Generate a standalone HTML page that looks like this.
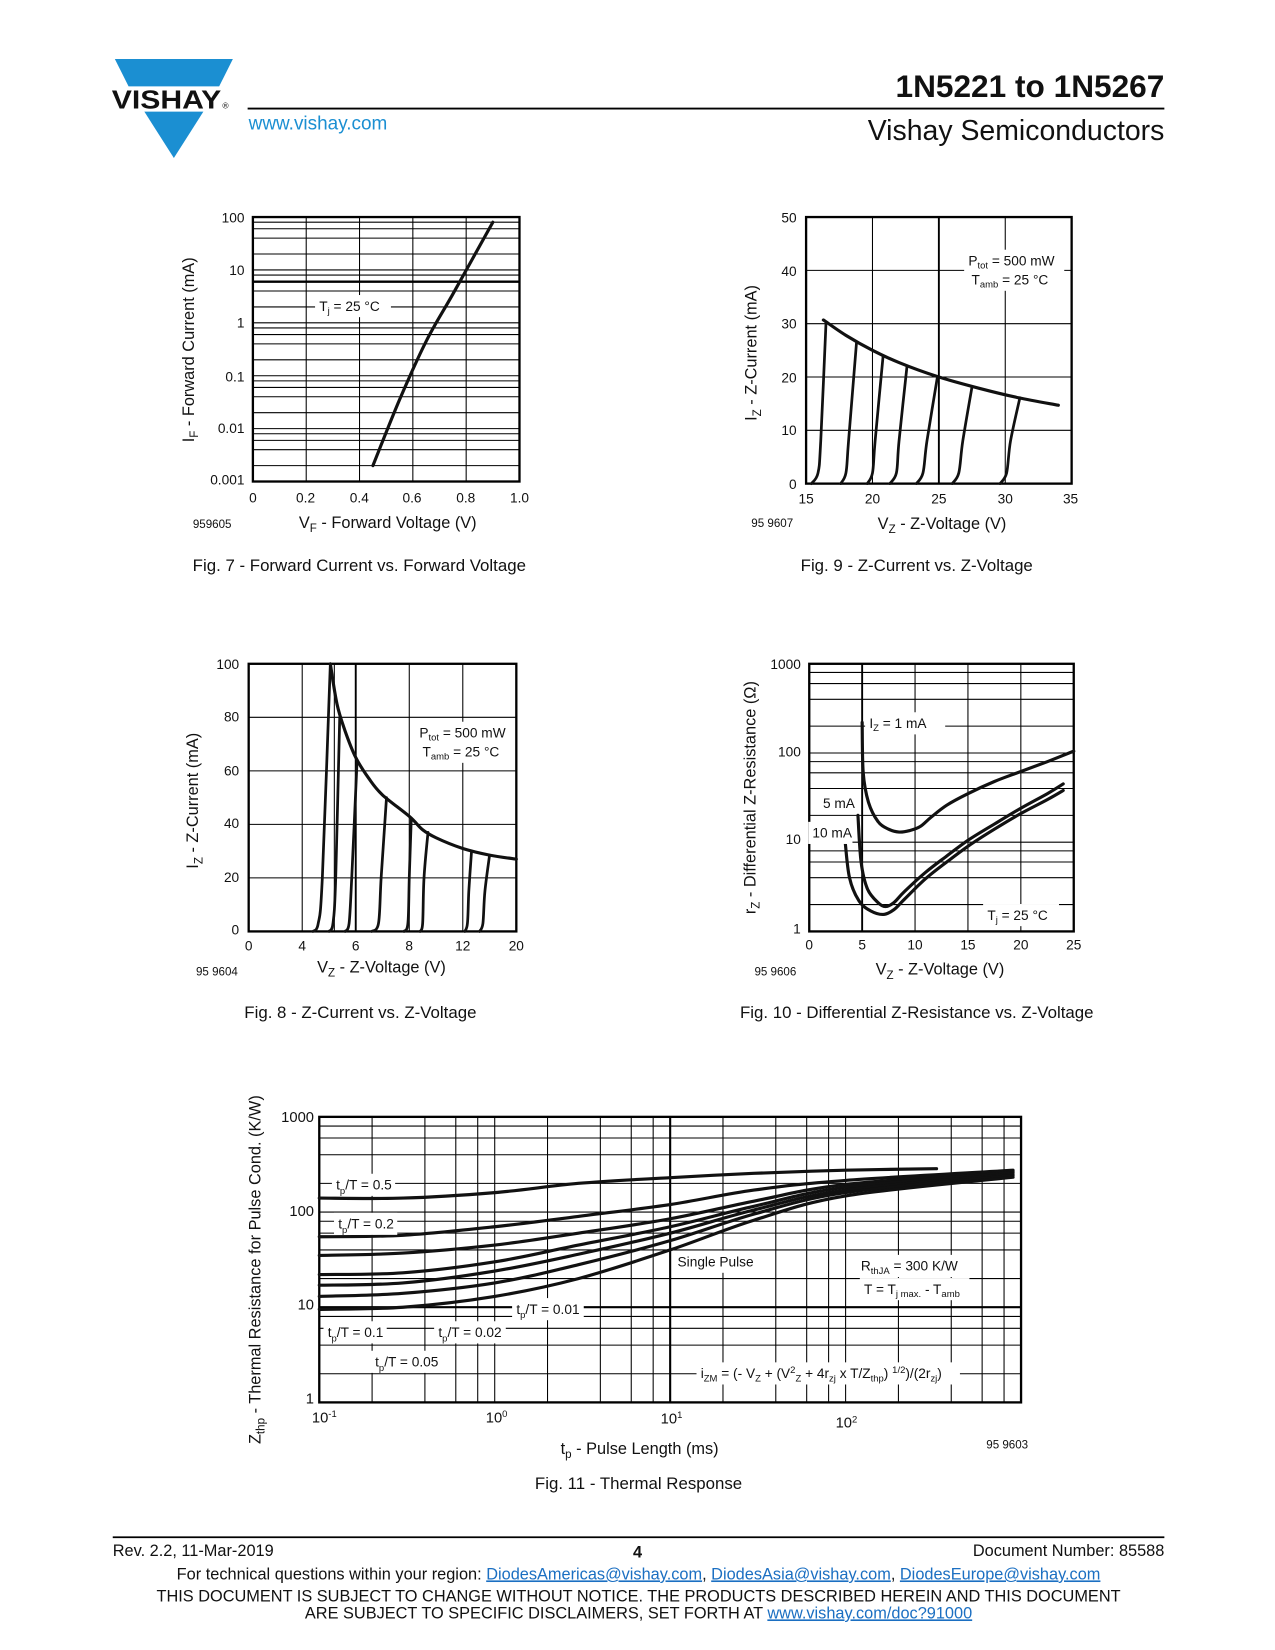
<!DOCTYPE html>
<html><head><meta charset="utf-8"><style>
html,body{margin:0;padding:0;background:#fff}
svg{display:block}
text{font-family:"Liberation Sans",Arial,sans-serif;fill:#111}
</style></head><body>
<svg id="page" xmlns="http://www.w3.org/2000/svg" width="1275" height="1650" viewBox="0 0 1210 1566" preserveAspectRatio="none">
<g>
<polygon points="109,56 221,56 208,82 122,82" fill="#1b8fd2"/>
<polygon points="137,106 193,106 165,150" fill="#1b8fd2"/>
<text x="106" y="103" font-size="25" font-weight="bold" textLength="104" lengthAdjust="spacingAndGlyphs">VISHAY</text>
<text x="211" y="103" font-size="8">®</text>
<text x="1105" y="92" font-size="30" font-weight="bold" text-anchor="end">1N5221 to 1N5267</text>
<line x1="235" y1="103" x2="1105" y2="103" stroke="#000" stroke-width="1.8"/>
<text x="236" y="123" font-size="18" style="fill:#1b8fd2">www.vishay.com</text>
<text x="1105" y="133" font-size="27" text-anchor="end">Vishay Semiconductors</text>
</g>

<g font-size="13">
<text x="232" y="211" text-anchor="end">100</text>
<text x="232" y="261" text-anchor="end">10</text>
<text x="232" y="311" text-anchor="end">1</text>
<text x="232" y="362" text-anchor="end">0.1</text>
<text x="232" y="411" text-anchor="end">0.01</text>
<text x="232" y="460" text-anchor="end">0.001</text>
<text x="240" y="477" text-anchor="middle">0</text>
<text x="290" y="477" text-anchor="middle">0.2</text>
<text x="341" y="477" text-anchor="middle">0.4</text>
<text x="391" y="477" text-anchor="middle">0.6</text>
<text x="442" y="477" text-anchor="middle">0.8</text>
<text x="493" y="477" text-anchor="middle">1.0</text>
<text x="368" y="501" font-size="15.5" text-anchor="middle">V<tspan font-size="11" dy="4">F</tspan><tspan dy="-4"> - Forward Voltage (V)</tspan></text>
<text transform="translate(184,332) rotate(-90)" font-size="15.5" text-anchor="middle">I<tspan font-size="11" dy="4">F</tspan><tspan dy="-4"> - Forward Current (mA)</tspan></text>
<text x="183" y="501" font-size="11">959605</text>
<text x="341" y="542" font-size="16" text-anchor="middle">Fig. 7 - Forward Current vs. Forward Voltage</text>
</g>

<g font-size="13">
<text x="756" y="211" text-anchor="end">50</text>
<text x="756" y="262" text-anchor="end">40</text>
<text x="756" y="312" text-anchor="end">30</text>
<text x="756" y="363" text-anchor="end">20</text>
<text x="756" y="413" text-anchor="end">10</text>
<text x="756" y="464" text-anchor="end">0</text>
<text x="765" y="478" text-anchor="middle">15</text>
<text x="828" y="478" text-anchor="middle">20</text>
<text x="891" y="478" text-anchor="middle">25</text>
<text x="954" y="478" text-anchor="middle">30</text>
<text x="1016" y="478" text-anchor="middle">35</text>
<text x="894" y="502" font-size="15.5" text-anchor="middle">V<tspan font-size="11" dy="4">Z</tspan><tspan dy="-4"> - Z-Voltage (V)</tspan></text>
<text transform="translate(718,335) rotate(-90)" font-size="15.5" text-anchor="middle">I<tspan font-size="11" dy="4">Z</tspan><tspan dy="-4"> - Z-Current (mA)</tspan></text>
<text x="713" y="500" font-size="11">95 9607</text>
<text x="870" y="542" font-size="16" text-anchor="middle">Fig. 9 - Z-Current vs. Z-Voltage</text>
</g>

<g font-size="13">
<text x="227" y="635" text-anchor="end">100</text>
<text x="227" y="685" text-anchor="end">80</text>
<text x="227" y="736" text-anchor="end">60</text>
<text x="227" y="786" text-anchor="end">40</text>
<text x="227" y="837" text-anchor="end">20</text>
<text x="227" y="887" text-anchor="end">0</text>
<text x="362" y="923" font-size="15.5" text-anchor="middle">V<tspan font-size="11" dy="4">Z</tspan><tspan dy="-4"> - Z-Voltage (V)</tspan></text>
<text transform="translate(188,760) rotate(-90)" font-size="15.5" text-anchor="middle">I<tspan font-size="11" dy="4">Z</tspan><tspan dy="-4"> - Z-Current (mA)</tspan></text>
<text x="186" y="926" font-size="11">95 9604</text>
<text x="342" y="966" font-size="16" text-anchor="middle">Fig. 8 - Z-Current vs. Z-Voltage</text>
</g>

<g font-size="13">
<text x="760" y="635" text-anchor="end">1000</text>
<text x="760" y="718" text-anchor="end">100</text>
<text x="760" y="801" text-anchor="end">10</text>
<text x="760" y="886" text-anchor="end">1</text>
<text x="892" y="925" font-size="15.5" text-anchor="middle">V<tspan font-size="11" dy="4">Z</tspan><tspan dy="-4"> - Z-Voltage (V)</tspan></text>
<text transform="translate(717,757) rotate(-90)" font-size="15.5" text-anchor="middle">r<tspan font-size="11" dy="4">Z</tspan><tspan dy="-4"> - Differential Z-Resistance (Ω)</tspan></text>
<text x="716" y="926" font-size="11">95 9606</text>
<text x="870" y="966" font-size="16" text-anchor="middle">Fig. 10 - Differential Z-Resistance vs. Z-Voltage</text>
</g>

<g font-size="14">
<text x="298" y="1065" text-anchor="end">1000</text>
<text x="298" y="1154" text-anchor="end">100</text>
<text x="298" y="1243" text-anchor="end">10</text>
<text x="298" y="1332" text-anchor="end">1</text>
<text x="296" y="1350">10<tspan font-size="9" dy="-5">-1</tspan></text>
<text x="461" y="1350">10<tspan font-size="9" dy="-5">0</tspan></text>
<text x="627" y="1351">10<tspan font-size="9" dy="-5">1</tspan></text>
<text x="793" y="1355">10<tspan font-size="9" dy="-5">2</tspan></text>
<text x="607" y="1380" font-size="15.5" text-anchor="middle">t<tspan font-size="11" dy="4">p</tspan><tspan dy="-4"> - Pulse Length (ms)</tspan></text>
<text transform="translate(247,1205) rotate(-90)" font-size="15.5" text-anchor="middle">Z<tspan font-size="11" dy="4">thp</tspan><tspan dy="-4"> - Thermal Resistance for Pulse Cond. (K/W)</tspan></text>
<text x="936" y="1375" font-size="11">95 9603</text>
<text x="606" y="1413" font-size="16" text-anchor="middle">Fig. 11 - Thermal Response</text>
</g>

<g font-size="15.5">
<line x1="107" y1="1459" x2="1105" y2="1459" stroke="#000" stroke-width="1.6"/>
<text x="107" y="1477">Rev. 2.2, 11-Mar-2019</text>
<text x="605" y="1478" font-weight="bold" text-anchor="middle">4</text>
<text x="1105" y="1477" text-anchor="end">Document Number: 85588</text>
<text x="606" y="1499" text-anchor="middle">For technical questions within your region: <tspan style="fill:#1b6fc2" text-decoration="underline">DiodesAmericas@vishay.com</tspan>, <tspan style="fill:#1b6fc2" text-decoration="underline">DiodesAsia@vishay.com</tspan>, <tspan style="fill:#1b6fc2" text-decoration="underline">DiodesEurope@vishay.com</tspan></text>
<text x="606" y="1520" text-anchor="middle">THIS DOCUMENT IS SUBJECT TO CHANGE WITHOUT NOTICE. THE PRODUCTS DESCRIBED HEREIN AND THIS DOCUMENT</text>
<text x="606" y="1536" text-anchor="middle">ARE SUBJECT TO SPECIFIC DISCLAIMERS, SET FORTH AT <tspan style="fill:#1b6fc2" text-decoration="underline">www.vishay.com/doc?91000</tspan></text>
</g>
<g id="charts"></g>
<g id="overlays"></g>
</svg>
<script>
// ---- Fig 7 data ----
const f7Volt = [0.45, 0.55, 0.65, 0.75, 0.9];
const f7Curr = [0.002, 0.035, 0.45, 3.5, 80];
// ---- Fig 9 data ----
const f9EnvV = [16.3, 18, 20, 22, 25, 28, 31, 34];
const f9EnvI = [30.7, 27.8, 25, 22.7, 20, 17.9, 16.1, 14.7];
const f9ZenerV = [[15.4,15.9,16.1,16.5],[17.6,18.0,18.2,18.8],[19.6,20.0,20.2,20.8],[21.3,21.8,22.0,22.6],[23.3,23.8,24.1,24.9],[26.0,26.5,26.8,27.5],[29.6,30.1,30.4,31.1]];
const f9ZenerI = [[0,2,8,30.2],[0,2,8,26.6],[0,2,8,24.0],[0,2,8,22.1],[0,2,8,20.1],[0,2,8,18.2],[0,2,8,16.1]];
// ---- Fig 8 data ----
const f8Ticks = [0, 4, 6, 8, 12, 20];
const f8EnvV = [5.05,5.3,5.6,6,6.5,7,8,9,10,12,16,20];
const f8EnvI = [100,85,75,65,57,51,43,38,35,31,28.5,27];
const f8ZenerV = [[4.4,4.6,4.75,5.05],[5.0,5.15,5.25,5.4],[5.6,5.75,5.85,6.05],[6.6,6.85,6.95,7.15],[7.8,7.95,8.0,8.15],[8.8,9.0,9.1,9.4],[12.3,12.7,12.9,13.3],[14.5,15,15.3,16]];
const f8ZenerI = [[0,3,20,100],[0,3,20,80],[0,3,20,64],[0,3,20,50],[0,3,20,42],[0,3,20,37],[0,3,15,30],[0,3,15,28.5]];
// ---- Fig 10 data ----
const f10Ticks = [0, 5, 10, 15, 20, 25];
const f10V1 = [5.0,5.1,5.6,6.5,7.5,8.5,9.5,10.5,11.5,13,15,17.5,20,22.5,25];
const f10R1 = [220,60,28,17,14,13,13.5,15,19,26,35,48,62,80,105];
const f10V5 = [4.6,4.9,5.5,6.5,7.2,8,9,11,13,15,17.5,20,22.5,24];
const f10R5 = [20,6,3,2.1,1.9,2.1,2.8,4.6,7,10.5,16,24,35,45];
const f10V10 = [3.4,3.8,4.7,5.8,7,8,9,11,13,15,17.5,20,22.5,24];
const f10R10 = [10,4,2.2,1.7,1.55,1.75,2.3,3.9,6,9,14,21,30,38];
// ---- Fig 11 data ----
const f11Tp = [0.1, 0.3, 1, 3, 10, 30, 100, 900];
const f11Tp05 = [0.1, 0.3, 1, 3, 10, 30, 100, 330];
const f11Z05 = [140,140,160,200,230,255,275,285];
const f11Z02 = [55,57,70,90,120,170,215,275];
const f11Z01 = [35,37,45,60,85,130,195,268];
const f11Z005 = [22,23,30,45,70,115,182,260];
const f11Z002 = [17,18,24,36,60,105,170,250];
const f11Z001 = [13,14,18,28,50,95,160,242];
const f11Zsp = [9.5,10,13,20,40,82,148,232];

const NS='http://www.w3.org/2000/svg';
const root=document.getElementById('charts');
const over=document.getElementById('overlays');
function el(tag,attrs,parent){const e=document.createElementNS(NS,tag);for(const k in attrs)e.setAttribute(k,attrs[k]);(parent||root).appendChild(e);return e;}
const lin=(d0,d1,r0,r1)=>v=>r0+(v-d0)/(d1-d0)*(r1-r0);
const lg=(d0,d1,r0,r1)=>v=>r0+(Math.log10(v)-Math.log10(d0))/(Math.log10(d1)-Math.log10(d0))*(r1-r0);
function pw(ticks,r0,r1){const n=ticks.length-1;return v=>{let i=0;while(i<n-1&&v>ticks[i+1])i++;return r0+(i+(v-ticks[i])/(ticks[i+1]-ticks[i]))*(r1-r0)/n;};}
function vline(x,y0,y1,w,name){const e=el('line',{x1:x,x2:x,y1:y0,y2:y1,stroke:'#000','stroke-width':w});

}
function hline(y,x0,x1,w,name){const e=el('line',{x1:x0,x2:x1,y1:y,y2:y,stroke:'#000','stroke-width':w});

}
function frame(x0,y0,x1,y1,name){const e=el('rect',{x:x0,y:y0,width:x1-x0,height:y1-y0,fill:'none',stroke:'#000','stroke-width':2.2});

}
function curve(xs,ys,sx,sy,name,w){
const p=xs.map((x,i)=>[sx(x),sy(ys[i])]);
let d='M'+p[0][0].toFixed(1)+','+p[0][1].toFixed(1);
for(let i=0;i<p.length-1;i++){const p0=p[Math.max(0,i-1)],p1=p[i],p2=p[i+1],p3=p[Math.min(p.length-1,i+2)];
const c1=[p1[0]+(p2[0]-p0[0])/6,p1[1]+(p2[1]-p0[1])/6],c2=[p2[0]-(p3[0]-p1[0])/6,p2[1]-(p3[1]-p1[1])/6];
d+='C'+c1.map(v=>v.toFixed(1)).join(',')+' '+c2.map(v=>v.toFixed(1)).join(',')+' '+p2.map(v=>v.toFixed(1)).join(',');}
const e=el('path',{d:d,fill:'none',stroke:'#111','stroke-width':w||3,'stroke-linejoin':'round','stroke-linecap':'round'});

}
function label(x,y,html,name,bw,fs){const g=el('g',{},over);


if(bw){const r=el('rect',{x:x-4,y:y-(fs||13)-2,width:bw,height:(fs||13)+8,fill:'#fff'},g);

}
const t=el('text',{x:x,y:y,'font-size':fs||13},g);t.innerHTML=html;

}
const minors=[1,2,4,6,8];

// ---- Fig 7 ----
{const sx=lin(0,1,240,493),sy=lg(0.001,100,457,206);
[0.2,0.4,0.6,0.8].forEach(v=>vline(sx(v),206,457,1,'fig7-vgrid'));
[0.001,0.01,0.1,1,10].forEach(d=>minors.forEach(m=>{if(d*m<100)hline(sy(d*m),240,493,1,'fig7-hgrid');}));
hline(sy(6),240,493,2.2,'fig7-ref-line');
frame(240,206,493,457,'fig7-plot-frame');
curve(f7Volt,f7Curr,sx,sy,'fig7-forward-curve');
label(303,295,'T<tspan font-size="9" dy="3">j</tspan><tspan dy="-3"> = 25 °C</tspan>','fig7-temp-label',72);}

// ---- Fig 9 ----
{const sx=lin(15,35,765,1017),sy=lin(0,50,459,206);
[20,30].forEach(v=>vline(sx(v),206,459,1,'fig9-vgrid'));
vline(sx(25),206,459,1.8,'fig9-vgrid-major');
[10,20,30,40].forEach(v=>hline(sy(v),765,1017,1,'fig9-hgrid'));
frame(765,206,1017,459,'fig9-plot-frame');
curve(f9EnvV,f9EnvI,sx,sy,'fig9-power-envelope');
f9ZenerV.forEach((vs,i)=>curve(vs,f9ZenerI[i],sx,sy,'fig9-zener-curve',2.6));
label(919,252,'P<tspan font-size="9" dy="3">tot</tspan><tspan dy="-3"> = 500 mW</tspan>','fig9-ptot-label',95);
label(922,270,'T<tspan font-size="9" dy="3">amb</tspan><tspan dy="-3"> = 25 °C</tspan>','fig9-tamb-label',88);}

// ---- Fig 8 ----
{const sx=pw(f8Ticks,236,490),sy=lin(0,100,884,630);
[4,6,8,12].forEach(v=>vline(sx(v),630,884,1,'fig8-vgrid'));
vline(sx(5.2),630,884,1,'fig8-vgrid');
vline(sx(6),630,884,1.8,'fig8-vgrid-major');
[20,40,60,80].forEach(v=>hline(sy(v),236,490,1,'fig8-hgrid'));
frame(236,630,490,884,'fig8-plot-frame');
f8Ticks.forEach(v=>{const t=el('text',{x:sx(v),y:902,'font-size':13,'text-anchor':'middle'},over);t.textContent=v;

});
curve(f8EnvV,f8EnvI,sx,sy,'fig8-power-envelope');
f8ZenerV.forEach((vs,i)=>curve(vs,f8ZenerI[i],sx,sy,'fig8-zener-curve',2.6));
label(398,700,'P<tspan font-size="9" dy="3">tot</tspan><tspan dy="-3"> = 500 mW</tspan>','fig8-ptot-label',92);
label(401,718,'T<tspan font-size="9" dy="3">amb</tspan><tspan dy="-3"> = 25 °C</tspan>','fig8-tamb-label',86);}

// ---- Fig 10 ----
{const sx=lin(0,25,768,1019),sy=lg(1,1000,884,630);
[10,15,20].forEach(v=>vline(sx(v),630,884,1,'fig10-vgrid'));
vline(sx(5),630,884,1.8,'fig10-vgrid-major');
[1,10,100].forEach(d=>minors.forEach(m=>{if(d*m>1&&d*m<1000)hline(sy(d*m),768,1019,1,'fig10-hgrid');}));
frame(768,630,1019,884,'fig10-plot-frame');
f10Ticks.forEach(v=>{const t=el('text',{x:sx(v),y:901,'font-size':13,'text-anchor':'middle'},over);t.textContent=v;

});
label(825,691,'I<tspan font-size="9" dy="3">Z</tspan><tspan dy="-3"> = 1 mA</tspan>','fig10-1ma-label',76);
label(781,767,'5 mA','fig10-5ma-label',36);
label(771,795,'10 mA','fig10-10ma-label',42);
label(937,873,'T<tspan font-size="9" dy="3">j</tspan><tspan dy="-3"> = 25 °C</tspan>','fig10-temp-label',72);
curve(f10V1,f10R1,sx,sy,'fig10-1ma-curve');
curve(f10V5,f10R5,sx,sy,'fig10-5ma-curve');
curve(f10V10,f10R10,sx,sy,'fig10-10ma-curve');}

// ---- Fig 11 ----
{const sx=lg(0.1,1000,303,969),sy=lg(1,1000,1331,1060);
[0.1,1,10,100].forEach(d=>minors.forEach(m=>{if(d*m>0.1)vline(sx(d*m),1060,1331,1,'fig11-vgrid');}));
vline(sx(10),1060,1331,2,'fig11-vgrid-major');
[1,10,100].forEach(d=>minors.forEach(m=>{if(d*m>1)hline(sy(d*m),303,969,1,'fig11-hgrid');}));
hline(sy(10),303,969,2,'fig11-hgrid-major');
frame(303,1060,969,1331,'fig11-plot-frame');
curve(f11Tp05,f11Z05,sx,sy,'fig11-tp-0.5-curve');
curve(f11Tp,f11Z02,sx,sy,'fig11-tp-0.2-curve');
curve(f11Tp,f11Z01,sx,sy,'fig11-tp-0.1-curve');
curve(f11Tp,f11Z005,sx,sy,'fig11-tp-0.05-curve');
curve(f11Tp,f11Z002,sx,sy,'fig11-tp-0.02-curve');
curve(f11Tp,f11Z001,sx,sy,'fig11-tp-0.01-curve');
curve(f11Tp,f11Zsp,sx,sy,'fig11-single-pulse-curve');
const tp=v=>'t<tspan font-size="9" dy="4">p</tspan><tspan dy="-4">/T = '+v+'</tspan>';
label(319,1129,tp('0.5'),'fig11-label-0.5',60);
label(321,1166,tp('0.2'),'fig11-label-0.2',60);
label(311,1269,tp('0.1'),'fig11-label-0.1',60);
label(356,1297,tp('0.05'),'fig11-label-0.05',68);
label(416,1269,tp('0.02'),'fig11-label-0.02',68);
label(490,1247,tp('0.01'),'fig11-label-0.01',68);
label(643,1202,'Single Pulse','fig11-single-pulse-label',82);
label(817,1206,'R<tspan font-size="9" dy="3">thJA</tspan><tspan dy="-3"> = 300 K/W</tspan>','fig11-rth-label',104);
label(820,1228,'T = T<tspan font-size="9" dy="3">j max.</tspan><tspan dy="-3"> - T</tspan><tspan font-size="9" dy="3">amb</tspan>','fig11-t-label',104);
label(665,1308,'i<tspan font-size="9" dy="3">ZM</tspan><tspan dy="-3"> = (- V</tspan><tspan font-size="9" dy="3">Z</tspan><tspan dy="-3"> + (V</tspan><tspan font-size="9" dy="-5">2</tspan><tspan font-size="9" dy="8">Z</tspan><tspan dy="-3"> + 4r</tspan><tspan font-size="9" dy="3">zj</tspan><tspan dy="-3"> x T/Z</tspan><tspan font-size="9" dy="3">thp</tspan><tspan dy="-3">) </tspan><tspan font-size="9" dy="-5">1/2</tspan><tspan dy="5">)/(2r</tspan><tspan font-size="9" dy="3">zj</tspan><tspan dy="-3">)</tspan>','fig11-formula-label',250);}
</script>
</body></html>
